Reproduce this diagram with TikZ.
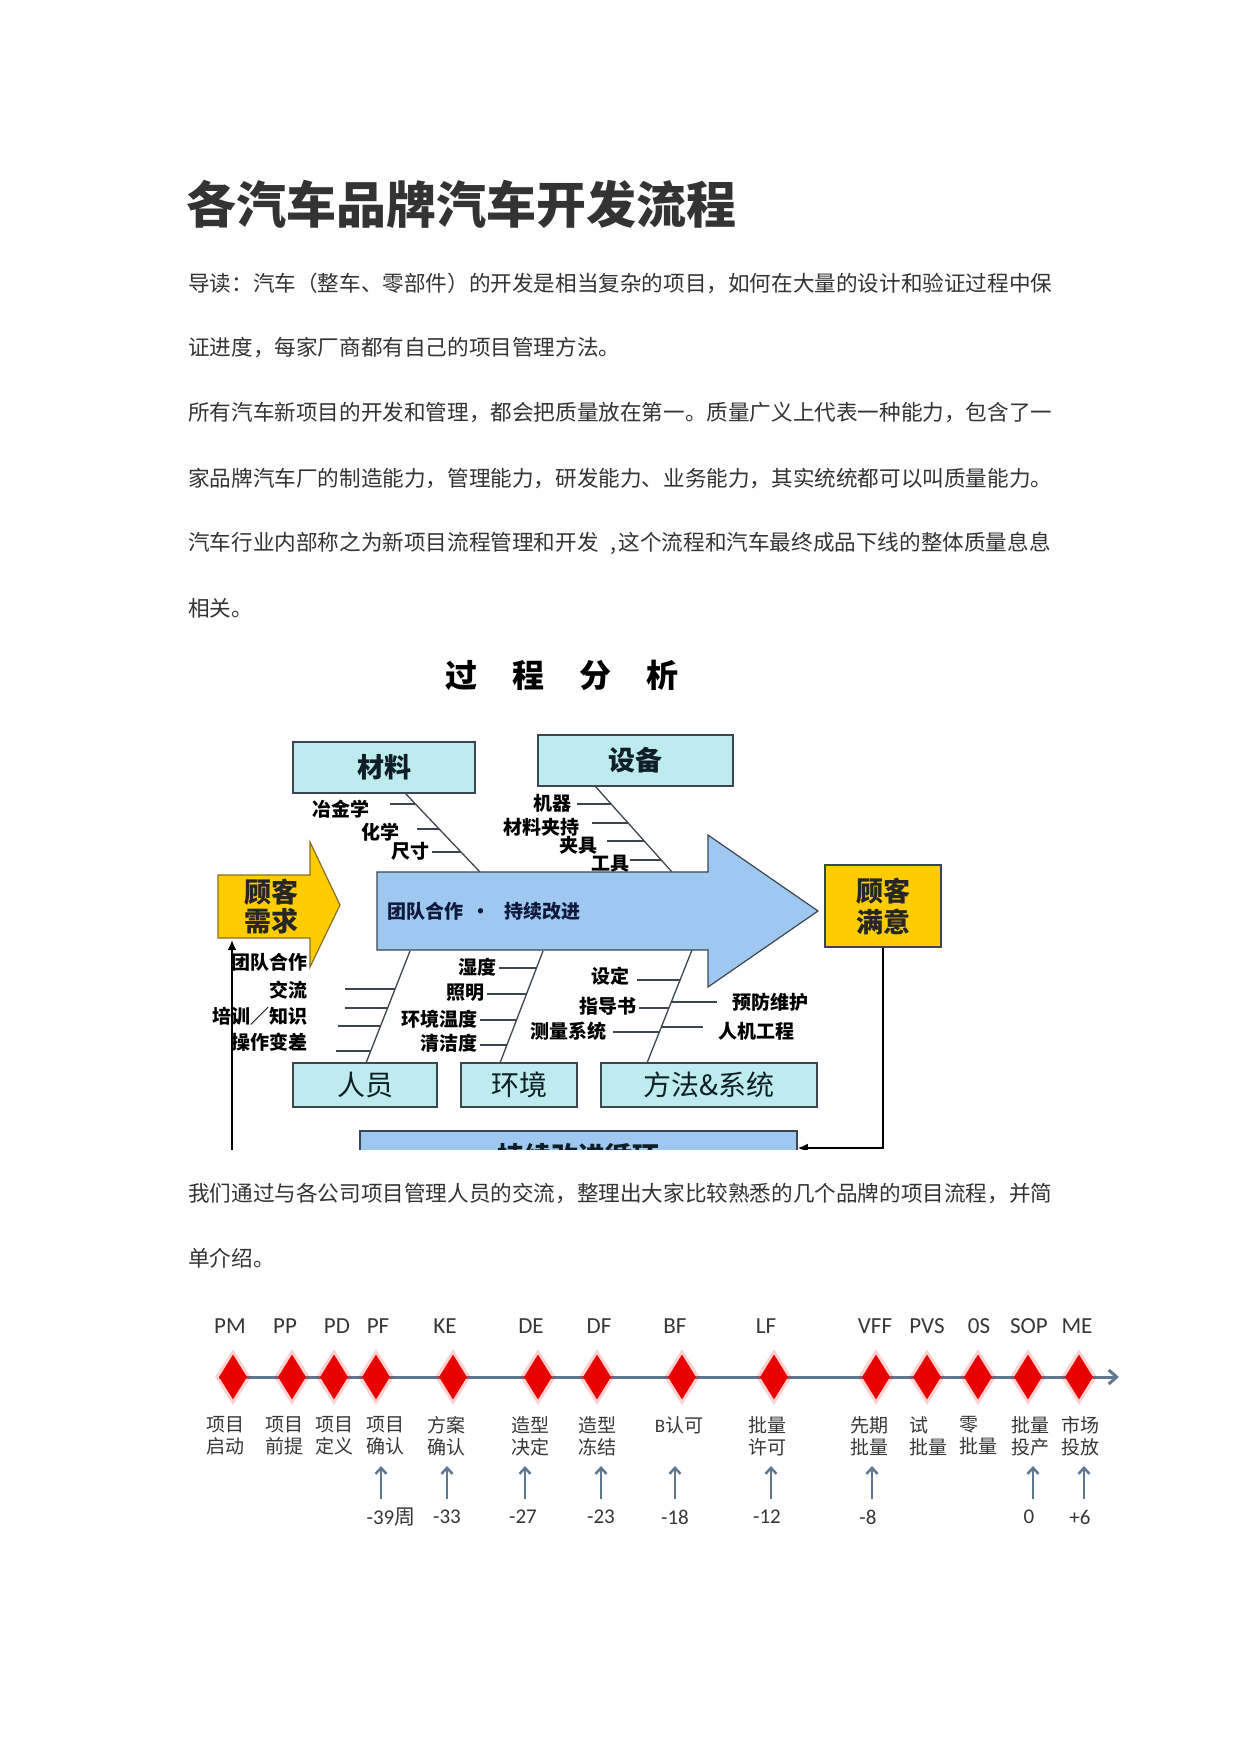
\documentclass[tikz,border=0pt]{standalone}
\usepackage{fontspec}
\setmainfont{Noto Sans CJK SC}
\newfontfamily\lat{Carlito}
\usetikzlibrary{arrows.meta,shapes.geometric}
\definecolor{txt}{RGB}{51,51,51}
\definecolor{boxc}{RGB}{190,236,238}
\definecolor{boxt}{RGB}{15,30,40}
\definecolor{bluea}{RGB}{158,200,240}
\definecolor{yel}{RGB}{255,204,0}
\definecolor{yeld}{RGB}{140,110,30}
\definecolor{edge}{RGB}{60,70,80}
\definecolor{tl}{RGB}{95,120,145}
\definecolor{dred}{RGB}{232,0,0}
\definecolor{tltxt}{RGB}{55,55,55}
\begin{document}
\begin{tikzpicture}[x=1pt,y=-1pt,
  body/.style={anchor=west,inner sep=0,text=txt,font=\fontsize{21.6}{26}\selectfont},
  bx/.style={draw=edge,line width=1.5,fill=boxc,inner sep=0,text=boxt},
  bone/.style={draw=edge,line width=1.3},
  lab/.style={inner sep=0,text=black,font=\fontsize{19}{19}\selectfont\bfseries},
  link/.style={draw=black,line width=2.5,-{Latex[length=10pt,width=9pt]}},
  tline/.style={draw=tl,line width=3,-{Straight Barb[length=8pt,width=14pt]}},
  uparr/.style={draw=tl,line width=2.5,-{Straight Barb[length=6pt,width=11pt]}},
  ms/.style={diamond,aspect=0.62,fill=dred,minimum width=28,minimum height=45,inner sep=0},
  halo/.style={diamond,aspect=0.62,fill=red,opacity=0.18,minimum width=36,minimum height=56,inner sep=0},
  abbr/.style={inner sep=0,text=tltxt,font=\lat\fontsize{23}{23}\selectfont},
  num/.style={inner sep=0,text=tltxt,font=\lat\fontsize{21}{21}\selectfont},
  tlab/.style={inner sep=0,text=tltxt,align=center,font=\fontsize{19}{22}\selectfont}
]
\useasboundingbox (0,0) rectangle (1241,1754);
\fill[white] (0,0) rectangle (1241,1754);

% ---------- title and text ----------
\node[anchor=west,inner sep=0,text=txt,font=\fontsize{50}{50}\selectfont\bfseries] (title) at (186,204) {各汽车品牌汽车开发流程};
\node[body] (t1) at (188,283) {导读：汽车（整车、零部件）的开发是相当复杂的项目，如何在大量的设计和验证过程中保};
\node[body] (t2) at (188,348) {证进度，每家厂商都有自己的项目管理方法。};
\node[body] (t3) at (188,413) {所有汽车新项目的开发和管理，都会把质量放在第一。质量广义上代表一种能力，包含了一};
\node[body] (t4) at (188,478) {家品牌汽车厂的制造能力，管理能力，研发能力、业务能力，其实统统都可以叫质量能力。};
\node[body] (t5) at (188,543) {汽车行业内部称之为新项目流程管理和开发\hspace{12pt},\hspace{2pt}这个流程和汽车最终成品下线的整体质量息息};
\node[body] (t6) at (188,608) {相关。};
\node[body] (t7) at (188,1193) {我们通过与各公司项目管理人员的交流，整理出大家比较熟悉的几个品牌的项目流程，并简};
\node[body] (t8) at (188,1258) {单介绍。};

% ---------- fishbone ----------
\begin{scope}
\clip (195,640) rectangle (975,1149);
\node[inner sep=0,text=black,font=\fontsize{32}{32}\selectfont\bfseries] (fbt) at (562,675) {过\hspace{35pt}程\hspace{35pt}分\hspace{35pt}析};

% bones
\draw[bone] (405,793) -- (480,872);
\draw[bone] (595,786) -- (672,872);
\draw[bone] (410,951) -- (366,1063);
\draw[bone] (543,951) -- (500,1063);
\draw[bone] (692,950) -- (647,1063);

% ticks
\draw[bone] (390,804) -- (415,804);
\draw[bone] (417,829) -- (439,829);
\draw[bone] (432,852) -- (461,852);
\draw[bone] (577,804) -- (611,804);
\draw[bone] (592,823) -- (628,823);
\draw[bone] (607,841) -- (644,841);
\draw[bone] (630,860) -- (661,860);
\draw[bone] (345,989) -- (395,989);
\draw[bone] (345,1008) -- (387.6,1008);
\draw[bone] (338,1026) -- (380.5,1026);
\draw[bone] (336,1051) -- (370.7,1051);
\draw[bone] (499,968) -- (536.5,968);
\draw[bone] (487,994) -- (526.5,994);
\draw[bone] (480,1020) -- (516.5,1020);
\draw[bone] (480,1045) -- (506.9,1045);
\draw[bone] (637,980) -- (680,980);
\draw[bone] (639,1008) -- (668.9,1008);
\draw[bone] (613,1032) -- (659.4,1032);
\draw[bone] (671.3,1002) -- (717,1002);
\draw[bone] (661.4,1027) -- (703,1027);

% labels
\node[lab,anchor=east] (c1) at (370,809) {冶金学};
\node[lab,anchor=east] (c2) at (400,832) {化学};
\node[lab,anchor=east] (c3) at (430,851) {尺寸};
\node[lab,anchor=east] (e1) at (572,803) {机器};
\node[lab,anchor=east] (e2) at (580,827) {材料夹持};
\node[lab,anchor=east] (e3) at (598,845) {夹具};
\node[lab,anchor=east] (e4) at (630,864) {工具};
\node[lab,anchor=east] (p1) at (308,962) {团队合作};
\node[lab,anchor=east] (p2) at (308,990) {交流};
\node[lab,anchor=east] (p3) at (308,1016) {培训／知识};
\node[lab,anchor=east] (p4) at (308,1042) {操作变差};
\node[lab,anchor=east] (v1) at (497,967) {湿度};
\node[lab,anchor=east] (v2) at (485,993) {照明};
\node[lab,anchor=east] (v3) at (478,1019) {环境温度};
\node[lab,anchor=east] (v4) at (478,1043) {清洁度};
\node[lab,anchor=east] (f1) at (630,976) {设定};
\node[lab,anchor=east] (f2) at (637,1006) {指导书};
\node[lab,anchor=east] (f3) at (607,1031) {测量系统};
\node[lab,anchor=west] (f4) at (732,1002) {预防维护};
\node[lab,anchor=west] (f5) at (718,1031) {人机工程};

% big arrow
\draw[draw=edge,line width=1.2,fill=bluea] (377,872) -- (708,872) -- (708,835) -- (818,911) -- (708,987) -- (708,950) -- (377,950) -- cycle;
\node[inner sep=0,anchor=west,text={rgb,255:red,15;green,25;blue,60},font=\fontsize{19}{19}\selectfont\bfseries] (team) at (387,911) {团队合作\hspace{8pt}·\hspace{14pt}持续改进};

% yellow arrow
\draw[draw=yeld,line width=1.2,fill=yel] (218,875) -- (310,875) -- (310,842) -- (340,905) -- (310,967) -- (310,938) -- (218,938) -- cycle;
\node[inner sep=0,align=center,text=black!85,font=\fontsize{27}{29}\selectfont\bfseries] (need) at (271,907) {顾客\\需求};

% boxes
\node[bx,minimum width=182,minimum height=51,font=\fontsize{27}{27}\selectfont\bfseries] (mat) at (384,767.5) {材料};
\node[bx,minimum width=195,minimum height=51,font=\fontsize{27}{27}\selectfont\bfseries] (equ) at (635.5,760.5) {设备};
\node[bx,minimum width=144,minimum height=44,font=\fontsize{28}{28}\selectfont] (ppl) at (365,1085) {人员};
\node[bx,minimum width=116,minimum height=44,font=\fontsize{28}{28}\selectfont] (env) at (519,1085) {环境};
\node[bx,minimum width=216,minimum height=44,font=\fontsize{28}{28}\selectfont] (mth) at (709,1085) {方法\&系统};
\node[bx,fill=bluea,minimum width=437,minimum height=50,font=\fontsize{27}{27}\selectfont\bfseries] (cont) at (578.5,1156) {持续改进循环};
\node[draw=edge,line width=1.5,fill=yel,inner sep=0,minimum width=116,minimum height=82,align=center,text=black!85,font=\fontsize{27}{31}\selectfont\bfseries] (sat) at (883,906) {顾客\\满意};

% loop connectors
\coordinate (needin) at (232,940);
\draw[link] (sat.south) |- ([yshift=8pt]cont.east);
\draw[link] ([yshift=-12pt]cont.west) -| (needin);
\end{scope}

% ---------- timeline ----------
\coordinate (tlstart) at (219,1377);
\coordinate (tlend) at (1119,1377);
\draw[tline] (tlstart) -- (tlend);
\foreach \x/\n in {233/1,292/2,334/3,376/4,453/5,538/6,597/7,682/8,774/9,876/10,927/11,978/12,1028/13,1079/14}{
  \node[halo] at (\x,1377) {};
  \node[ms] (m\n) at (\x,1377) {};
}
\node[abbr] (a1) at (230,1326) {PM};
\node[abbr] (a2) at (285,1326) {PP};
\node[abbr] (a3) at (337,1326) {PD};
\node[abbr] (a4) at (378,1326) {PF};
\node[abbr] (a5) at (445,1326) {KE};
\node[abbr] (a6) at (531,1326) {DE};
\node[abbr] (a7) at (599,1326) {DF};
\node[abbr] (a8) at (675,1326) {BF};
\node[abbr] (a9) at (766,1326) {LF};
\node[abbr] (a10) at (875,1326) {VFF};
\node[abbr] (a11) at (927,1326) {PVS};
\node[abbr] (a12) at (979,1326) {0S};
\node[abbr] (a13) at (1029,1326) {SOP};
\node[abbr] (a14) at (1077,1326) {ME};

\node[tlab] (l1) at (225,1436) {项目\\启动};
\node[tlab] (l2) at (284,1436) {项目\\前提};
\node[tlab] (l3) at (334,1436) {项目\\定义};
\node[tlab] (l4) at (385,1436) {项目\\确认};
\node[tlab] (l5) at (446,1436) {方案\\确认};
\node[tlab] (l6) at (530,1436) {造型\\决定};
\node[tlab] (l7) at (597,1436) {造型\\冻结};
\node[tlab] (l8) at (679,1425) {{\lat B}认可};
\node[tlab] (l9) at (767,1436) {批量\\许可};
\node[tlab] (l10) at (869,1436) {先期\\批量};
\node[tlab,align=left,anchor=west] (l11) at (909,1436) {试\\批量};
\node[tlab,align=left,anchor=west] (l12) at (959,1436) {零\\批量};
\node[tlab] (l13) at (1030,1436) {批量\\投产};
\node[tlab] (l14) at (1080,1436) {市场\\投放};

\node[num] (n4) at (391,1517) {-39\fontsize{21}{21}\selectfont\normalfont 周};
\node[num] (n5) at (447,1517) {-33};
\node[num] (n6) at (523,1517) {-27};
\node[num] (n7) at (601,1517) {-23};
\node[num] (n8) at (675,1517) {-18};
\node[num] (n9) at (767,1517) {-12};
\node[num] (n10) at (868,1517) {-8};
\node[num] (n13) at (1029,1517) {0};
\node[num] (n14) at (1080,1517) {+6};

\foreach \x in {381,447,525,601,675,771,872,1033,1084}{
  \draw[uparr] (\x,1499) -- (\x,1466);
}
\end{tikzpicture}
\end{document}
